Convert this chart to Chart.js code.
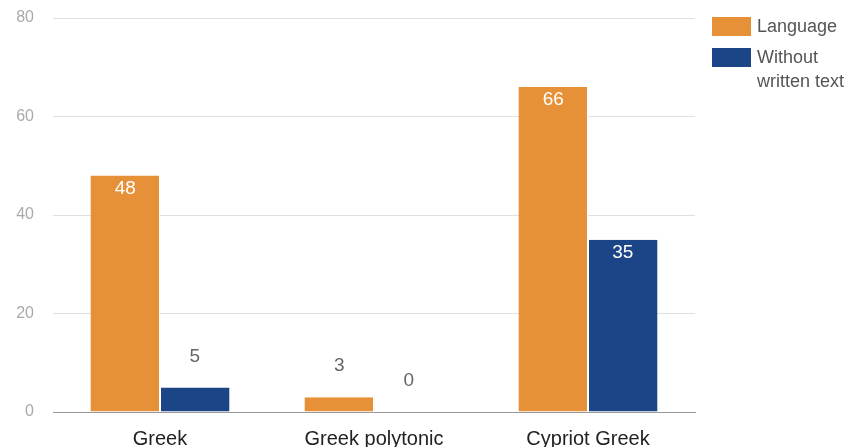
<!DOCTYPE html>
<html>
<head>
<meta charset="utf-8">
<script src="https://cdn.jsdelivr.net/npm/chart.js@4"></script>
<style>
  html, body { margin: 0; padding: 0; background: #fff; }
  #wrap { width: 858px; height: 447px; }
</style>
</head>
<body>
<div id="wrap"><canvas id="myChart" width="858" height="447"></canvas></div>
<script>
const ctx = document.getElementById("myChart").getContext("2d");

let labels = ['Greek', 'Greek polytonic', 'Cypriot Greek'];
let languageValues = [48, 3, 66];
let withoutTextValues = [5, 0, 35];
let seriesNames = ['Language', ['Without', 'written text']];
let yTicks = [0, 20, 40, 60, 80];

const FONT = "'Liberation Sans', Arial, sans-serif";

// value labels: white inside tall bars, gray above short ones
const valueLabels = {
   id: 'valueLabels',
   afterDatasetsDraw(chart) {
      const c = chart.ctx;
      c.save();
      c.font = '19px ' + FONT;
      c.textAlign = 'center';
      c.textBaseline = 'middle';
      chart.data.datasets.forEach((ds, i) => {
         chart.getDatasetMeta(i).data.forEach((bar, j) => {
            const v = ds.data[j];
            const h = bar.base - bar.y;
            if (h > 40) {
               c.fillStyle = '#ffffff';
               c.fillText(String(v), bar.x, bar.y + 13);
            } else {
               c.fillStyle = '#666666';
               c.fillText(String(v), bar.x, bar.y - 31);
            }
         });
      });
      c.restore();
   }
};

// legend on the right, with wrapped text
const sideLegend = {
   id: 'sideLegend',
   afterDraw(chart) {
      const c = chart.ctx;
      c.save();
      c.font = '18px ' + FONT;
      c.textBaseline = 'middle';
      let y = 17;
      chart.data.datasets.forEach((ds) => {
         c.fillStyle = ds.backgroundColor;
         c.fillRect(712, y, 39, 19);
         c.fillStyle = '#555555';
         const lines = Array.isArray(ds.label) ? ds.label : [ds.label];
         lines.forEach((t, k) => c.fillText(t, 757, y + 10 + k * 24));
         y += 31;
      });
      c.restore();
   }
};

const data = {
   labels,
   datasets: [
      {
         label: seriesNames[0],
         data: languageValues,
         backgroundColor: '#e69138',
         borderColor: '#ffffff',
         borderWidth: { left: 0, right: 1, top: 0, bottom: 0 },
         borderSkipped: false,
         barPercentage: 1.0,
         categoryPercentage: 0.65,
      },
      {
         label: seriesNames[1],
         data: withoutTextValues,
         backgroundColor: '#1c4587',
         borderColor: '#ffffff',
         borderWidth: { left: 1, right: 0, top: 0, bottom: 0 },
         borderSkipped: false,
         barPercentage: 1.0,
         categoryPercentage: 0.65,
      }
   ]
};

const config = {
   type: 'bar',
   data: data,
   plugins: [valueLabels, sideLegend],
   options: {
      responsive: false,
      animation: false,
      layout: {
         padding: { top: 18, right: 163, left: 0, bottom: 0 }
      },
      plugins: {
         legend: { display: false },
         tooltip: { enabled: false }
      },
      scales: {
         y: {
            min: 0,
            max: 80,
            afterBuildTicks: (s) => { s.ticks = yTicks.map(v => ({ value: v })); },
            afterFit: (s) => {
               s.width = 53;
               s.paddingTop = 0;
               s.paddingBottom = 0;
            },
            border: { display: false },
            grid: {
               color: (c) => c.tick && c.tick.value === 0 ? '#999999' : '#e0e0e0',
               drawTicks: false,
            },
            ticks: {
               color: '#aaaaaa',
               padding: 19,
               font: { family: FONT, size: 16 }
            }
         },
         x: {
            afterFit: (s) => { s.height = 35; },
            grid: { display: false },
            border: { color: '#999999' },
            ticks: {
               color: '#222222',
               padding: 7,
               font: { family: FONT, size: 20 }
            }
         }
      }
   }
};

const myChart = new Chart(ctx, config);
</script>
</body>
</html>
